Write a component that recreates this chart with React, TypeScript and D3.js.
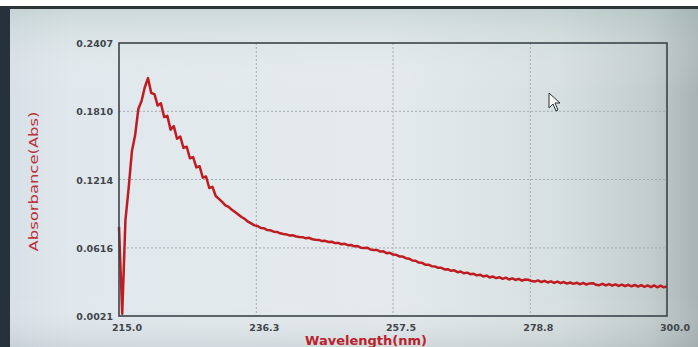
import React from "react";
import * as d3 from "d3";

// UV absorbance scan, sampled every 0.5 nm from 215 to 300 nm
const startNm = 215;
const stepNm = 0.5;
const absorbance = [
  0.080, 0.004, 0.086, 0.114, 0.146, 0.160, 0.183, 0.190, 0.202, 0.210,
  0.197, 0.196, 0.186, 0.188, 0.176, 0.177, 0.165, 0.168, 0.157, 0.159,
  0.149, 0.150, 0.140, 0.141, 0.132, 0.133, 0.123, 0.124, 0.114, 0.115,
  0.1070, 0.1045, 0.1018, 0.0988, 0.0975, 0.0950, 0.0930, 0.0908, 0.0886, 0.0870,
  0.0845, 0.0830, 0.0813, 0.0808, 0.0790, 0.0788, 0.0772, 0.0770, 0.0758, 0.0756,
  0.0744, 0.0738, 0.0734, 0.0724, 0.0726, 0.0716, 0.0712, 0.0710, 0.0700, 0.0704,
  0.0692, 0.0688, 0.0686, 0.0676, 0.0678, 0.0668, 0.0670, 0.0658, 0.0660, 0.0648,
  0.0652, 0.0640, 0.0642, 0.0630, 0.0632, 0.0618, 0.0616, 0.0618, 0.0602, 0.0598,
  0.0598, 0.0584, 0.0586, 0.0570, 0.0574, 0.0558, 0.0556, 0.0542, 0.0540, 0.0526,
  0.0522, 0.0506, 0.0504, 0.0488, 0.0486, 0.0470, 0.0470, 0.0456, 0.0454, 0.0442,
  0.0442, 0.0428, 0.0430, 0.0416, 0.0420, 0.0404, 0.0410, 0.0394, 0.0400, 0.0386,
  0.0390, 0.0376, 0.0382, 0.0366, 0.0374, 0.0358, 0.0366, 0.0352, 0.0360, 0.0346,
  0.0356, 0.0340, 0.0350, 0.0336, 0.0346, 0.0330, 0.0340, 0.0338, 0.0326, 0.0322,
  0.0332, 0.0318, 0.0328, 0.0314, 0.0324, 0.0310, 0.0322, 0.0308, 0.0318, 0.0304,
  0.0314, 0.0302, 0.0312, 0.0298, 0.0310, 0.0296, 0.0306, 0.0308, 0.0294, 0.0290,
  0.0302, 0.0288, 0.0300, 0.0286, 0.0298, 0.0284, 0.0296, 0.0282, 0.0294, 0.0280,
  0.0292, 0.0278, 0.0290, 0.0276, 0.0288, 0.0274, 0.0288, 0.0272, 0.0286, 0.0272,
  0.0280,
];

const xTicks = [215.0, 236.3, 257.5, 278.8, 300.0];
const yTicks = [0.0021, 0.0616, 0.1214, 0.181, 0.2407];

const W = 698;
const H = 347;
const plot = { left: 119, right: 667, top: 43, bottom: 316 };

const App = () => {
  const x = d3.scaleLinear().domain([215, 300]).range([plot.left, plot.right]);
  const y = d3.scaleLinear().domain([0.0021, 0.2407]).range([plot.bottom, plot.top]);

  const points = absorbance.map((a, i) => [startNm + i * stepNm, a]);
  const line = d3
    .line<number[]>()
    .x((d) => x(d[0]))
    .y((d) => y(d[1]));

  const tickFont = "'DejaVu Sans', Verdana, sans-serif";

  return (
    <svg
      width={W}
      height={H}
      style={{ position: "absolute", left: 0, top: 0, display: "block" }}
    >
      <defs>
        <linearGradient id="screen" x1="0" y1="0" x2="1" y2="0">
          <stop offset="0" stopColor="#d6dfe6" />
          <stop offset="0.1" stopColor="#e1e8ed" />
          <stop offset="0.55" stopColor="#e4eaed" />
          <stop offset="0.8" stopColor="#d7e0e0" />
          <stop offset="0.93" stopColor="#c3cdcd" />
          <stop offset="1" stopColor="#a9b3b4" />
        </linearGradient>
        <linearGradient id="shade" x1="0" y1="0" x2="0" y2="1">
          <stop offset="0" stopColor="#9fb8b2" stopOpacity="0.35" />
          <stop offset="0.25" stopColor="#ffffff" stopOpacity="0" />
          <stop offset="0.85" stopColor="#ffffff" stopOpacity="0" />
          <stop offset="1" stopColor="#8c969c" stopOpacity="0.2" />
        </linearGradient>
      </defs>

      {/* photographed screen */}
      <rect x={0} y={0} width={W} height={H} fill="#ffffff" />
      <rect x={0} y={7} width={W} height={H - 7} fill="url(#screen)" />
      <rect x={0} y={7} width={W} height={H - 7} fill="url(#shade)" />
      <rect x={0} y={6} width={W} height={3} fill="#2d3438" />
      <rect x={0} y={6} width={10} height={H - 6} fill="#27313b" />

      {/* grid */}
      {xTicks.slice(1, -1).map((t) => (
        <line
          key={"gx" + t}
          x1={x(t)}
          x2={x(t)}
          y1={plot.top}
          y2={plot.bottom}
          stroke="#a2acb0"
          strokeWidth={1}
          strokeDasharray="2,2"
        />
      ))}
      {yTicks.slice(1, -1).map((t) => (
        <line
          key={"gy" + t}
          x1={plot.left}
          x2={plot.right}
          y1={y(t)}
          y2={y(t)}
          stroke="#a2acb0"
          strokeWidth={1}
          strokeDasharray="2,2"
        />
      ))}

      {/* spectrum */}
      <path
        d={line(points) || ""}
        fill="none"
        stroke="#bf1c22"
        strokeWidth={2.5}
        strokeLinejoin="round"
      />

      {/* frame */}
      <rect
        x={plot.left}
        y={plot.top}
        width={plot.right - plot.left}
        height={plot.bottom - plot.top}
        fill="none"
        stroke="#3b4449"
        strokeWidth={1.6}
      />

      {/* y tick labels */}
      {yTicks.map((t) => (
        <text
          key={"ty" + t}
          x={plot.left - 6}
          y={y(t) + 4}
          textAnchor="end"
          fontFamily={tickFont}
          fontSize={9.5}
          fontWeight="bold"
          fill="#40464b"
        >
          {t.toFixed(4)}
        </text>
      ))}

      {/* x tick labels */}
      {xTicks.map((t) => (
        <text
          key={"tx" + t}
          x={x(t) + 8}
          y={plot.bottom + 15}
          textAnchor="middle"
          fontFamily={tickFont}
          fontSize={9.5}
          fontWeight="bold"
          fill="#40464b"
        >
          {t.toFixed(1)}
        </text>
      ))}

      {/* axis titles */}
      <text
        transform={`translate(38, ${(plot.top + plot.bottom) / 2 + 2}) rotate(-90)`}
        textAnchor="middle"
        fontFamily={tickFont}
        fontSize={13}
        fill="#b8323a"
        textLength={140}
        lengthAdjust="spacingAndGlyphs"
      >
        Absorbance(Abs)
      </text>
      <text
        x={366}
        y={345}
        textAnchor="middle"
        fontFamily={tickFont}
        fontSize={13}
        fontWeight="bold"
        fill="#b8232b"
      >
        Wavelength(nm)
      </text>

      {/* mouse pointer visible on screen */}
      <path
        d="M549,93 L549,108 L553,104 L556,111 L558,110 L555,103 L560,103 Z"
        fill="#f4f6f6"
        stroke="#2c3236"
        strokeWidth={1}
      />
    </svg>
  );
};

export default App;
